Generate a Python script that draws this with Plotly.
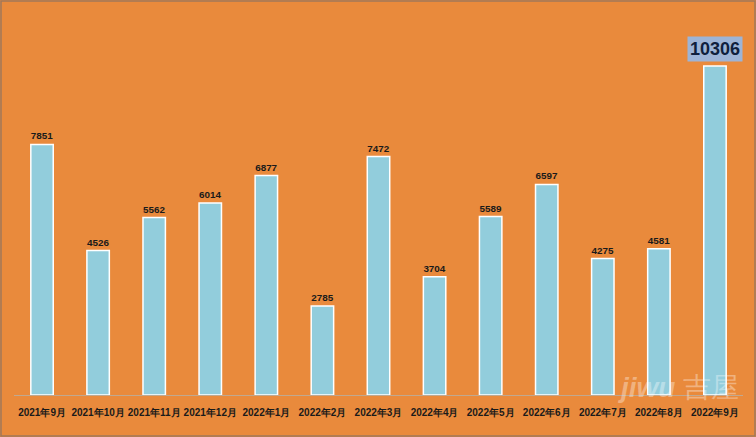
import plotly.graph_objects as go

categories = ["2021年9月", "2021年10月", "2021年11月", "2021年12月", "2022年1月", "2022年2月",
              "2022年3月", "2022年4月", "2022年5月", "2022年6月", "2022年7月", "2022年8月", "2022年9月"]
values = [7851, 4526, 5562, 6014, 6877, 2785, 7472, 3704, 5589, 6597, 4275, 4581, 10306]

bar_text = [str(v) for v in values[:-1]] + [""]

fig = go.Figure()
fig.add_trace(go.Bar(
    x=categories, y=values,
    marker=dict(color="#92CDDC", line=dict(color="#FFFFFF", width=1.5)),
    width=0.4,
    text=bar_text, textposition="outside",
    textfont=dict(family="Liberation Sans", size=10, color="#1a1a1a", weight="bold"),
    cliponaxis=False,
    hoverinfo="skip",
))

fig.add_annotation(
    x=categories[-1], y=values[-1], text="<b>10306</b>",
    showarrow=False, yanchor="bottom", yshift=4,
    font=dict(family="Liberation Sans", size=18, color="#0F1F3D"),
    bgcolor="#9DB4D6", borderpad=2,
)

fig.add_annotation(
    x=(678 - 14) / 729.0, y=(395 - 387) / 383.0, xref="paper", yref="paper",
    text="<b><i>jiwu</i></b> 吉屋",
    showarrow=False, xanchor="center", yanchor="middle",
    font=dict(family="Liberation Sans", size=28, color="rgba(255,255,255,0.35)"),
)

W = 729.0
H = 383.0
fig.update_layout(
    width=756, height=437,
    margin=dict(l=14, r=13, t=12, b=42, autoexpand=False),
    paper_bgcolor="#E98A3C", plot_bgcolor="#E98A3C",
    showlegend=False,
    bargap=0.6,
    font=dict(family="Liberation Sans"),
    shapes=[dict(type="rect", xref="paper", yref="paper",
                 x0=-13 / W, x1=1 + 12 / W, y0=-41 / H, y1=1 + 11 / H,
                 line=dict(color="#A0785A", width=1.5))],
)
fig.update_xaxes(showline=True, linecolor="#C0A890", linewidth=1, ticks="", automargin=False,
                 ticklabelstandoff=8,
                 tickfont=dict(family="Liberation Sans", size=10, color="#1a1a1a", weight="bold"),
                 showgrid=False)
fig.update_yaxes(range=[0, 12000], showticklabels=False, showgrid=False, zeroline=False, automargin=False)

fig.write_html("out.html", post_script="document.body.style.margin='0';",
               config={"displayModeBar": False})
